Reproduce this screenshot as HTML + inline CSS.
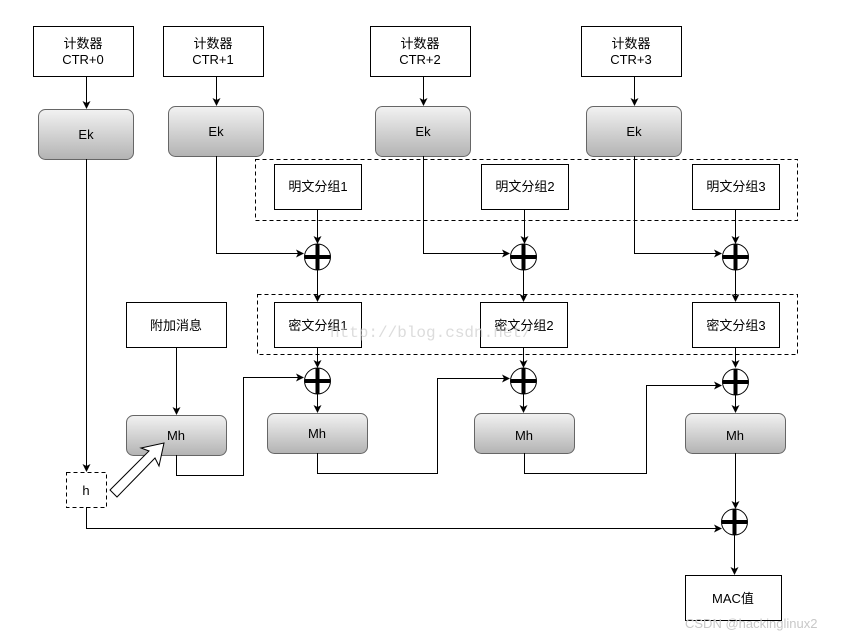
<!DOCTYPE html>
<html><head><meta charset="utf-8"><style>html,body{margin:0;padding:0;background:#fff}</style></head>
<body>
<svg width="847" height="638" viewBox="0 0 847 638" xmlns="http://www.w3.org/2000/svg" font-family="Liberation Sans, Noto Sans CJK SC, sans-serif" font-size="13">
<defs>
<linearGradient id="g" x1="0" y1="0" x2="0" y2="1"><stop offset="0" stop-color="#f2f2f2"/><stop offset="1" stop-color="#b3b3b3"/></linearGradient>
<marker id="a" markerWidth="8" markerHeight="8" refX="7" refY="4" orient="auto" markerUnits="userSpaceOnUse"><path d="M0,0 L8,4 L0,8 L2,4 Z" fill="#000"/></marker>
<g id="x"><circle r="13" fill="#fff" stroke="#000" stroke-width="1"/><path d="M-13,0 H13 M0,-13 V13" stroke="#000" stroke-width="4"/></g>
</defs>
<rect width="847" height="638" fill="#fff"/>
<g fill="none" stroke="#000" stroke-width="1" stroke-dasharray="4,3">
<rect x="255.5" y="159.5" width="542" height="61"/>
<rect x="257.5" y="294.5" width="540" height="60"/>
<rect x="66.5" y="472.5" width="40" height="35"/>
</g>
<g fill="#fff" stroke="#000">
<rect x="33.5" y="26.5" width="100" height="50"/><rect x="163.5" y="26.5" width="100" height="50"/>
<rect x="370.5" y="26.5" width="100" height="50"/><rect x="581.5" y="26.5" width="100" height="50"/>
<rect x="274.5" y="164.5" width="87" height="45"/><rect x="481.5" y="164.5" width="87" height="45"/><rect x="692.5" y="164.5" width="87" height="45"/>
<rect x="274.5" y="302.5" width="87" height="45"/><rect x="480.5" y="302.5" width="87" height="45"/><rect x="692.5" y="302.5" width="87" height="45"/>
<rect x="126.5" y="302.5" width="100" height="45"/>
<rect x="685.5" y="575.5" width="96" height="45"/>
</g>
<g fill="url(#g)" stroke="#666">
<rect x="38.5" y="109.5" width="95" height="50" rx="7"/><rect x="168.5" y="106.5" width="95" height="50" rx="7"/>
<rect x="375.5" y="106.5" width="95" height="50" rx="7"/><rect x="586.5" y="106.5" width="95" height="50" rx="7"/>
<rect x="126.5" y="415.5" width="100" height="40" rx="7"/><rect x="267.5" y="413.5" width="100" height="40" rx="7"/>
<rect x="474.5" y="413.5" width="100" height="40" rx="7"/><rect x="685.5" y="413.5" width="100" height="40" rx="7"/>
</g>
<g fill="none" stroke="#000" marker-end="url(#a)">
<path d="M86.5,76 V108"/><path d="M216.5,76 V105"/><path d="M423.5,76 V105"/><path d="M634.5,76 V105"/>
<path d="M216.5,156 V253.5 H303"/><path d="M423.5,156 V253.5 H509"/><path d="M634.5,156 V253.5 H721"/>
<path d="M317.5,209 V243"/><path d="M524.5,209 V243"/><path d="M735.5,209 V243"/>
<path d="M317.5,270 V301"/><path d="M523.5,270 V301"/><path d="M735.5,270 V301"/>
<path d="M317.5,347 V367"/><path d="M523.5,347 V367"/><path d="M735.5,347 V367"/>
<path d="M317.5,394 V412"/><path d="M523.5,394 V412"/><path d="M735.5,394 V412"/>
<path d="M176.5,347 V414"/>
<path d="M86.5,159 V471"/>
<path d="M176.5,455 V475.5 H243.5 V377.5 H303"/>
<path d="M317.5,453 V473.5 H437.5 V378.5 H509"/>
<path d="M524.5,453 V473.5 H646.5 V385.5 H721"/>
<path d="M735.5,453 V508"/>
<path d="M86.5,507 V528.5 H721"/>
<path d="M734.5,535 V574"/>
</g>
<use href="#x" x="317.5" y="257"/><use href="#x" x="523.5" y="257"/><use href="#x" x="735.5" y="257"/>
<use href="#x" x="317.5" y="381"/><use href="#x" x="523.5" y="381"/><use href="#x" x="735.5" y="382"/>
<use href="#x" x="734.5" y="522"/>
<path d="M110,490 L149,451 L141,448 L164,443 L159,466 L155,458 L117,497 Z" fill="#fff" stroke="#000"/>
<g text-anchor="middle" fill="#000">
<text x="83" y="48">计数器</text><text x="83" y="64">CTR+0</text>
<text x="213" y="48">计数器</text><text x="213" y="64">CTR+1</text>
<text x="420" y="48">计数器</text><text x="420" y="64">CTR+2</text>
<text x="631" y="48">计数器</text><text x="631" y="64">CTR+3</text>
<text x="86" y="139">Ek</text><text x="216" y="136">Ek</text><text x="423" y="136">Ek</text><text x="634" y="136">Ek</text>
<text x="318" y="191">明文分组1</text><text x="525" y="191">明文分组2</text><text x="736" y="191">明文分组3</text>
<text x="318" y="330">密文分组1</text><text x="524" y="330">密文分组2</text><text x="736" y="330">密文分组3</text>
<text x="176" y="330">附加消息</text>
<text x="176" y="440">Mh</text><text x="317" y="438">Mh</text><text x="524" y="440">Mh</text><text x="735" y="440">Mh</text>
<text x="86" y="495">h</text>
<text x="733" y="603">MAC值</text>
</g>
<text x="330" y="337" font-family="Liberation Mono, monospace" font-size="16" fill="#d4d4d4" opacity="0.8">http://blog.csdn.net/</text>
<text x="685" y="628" font-size="13" fill="#c8c8c8">CSDN @hackinglinux2</text>
</svg>
</body></html>
